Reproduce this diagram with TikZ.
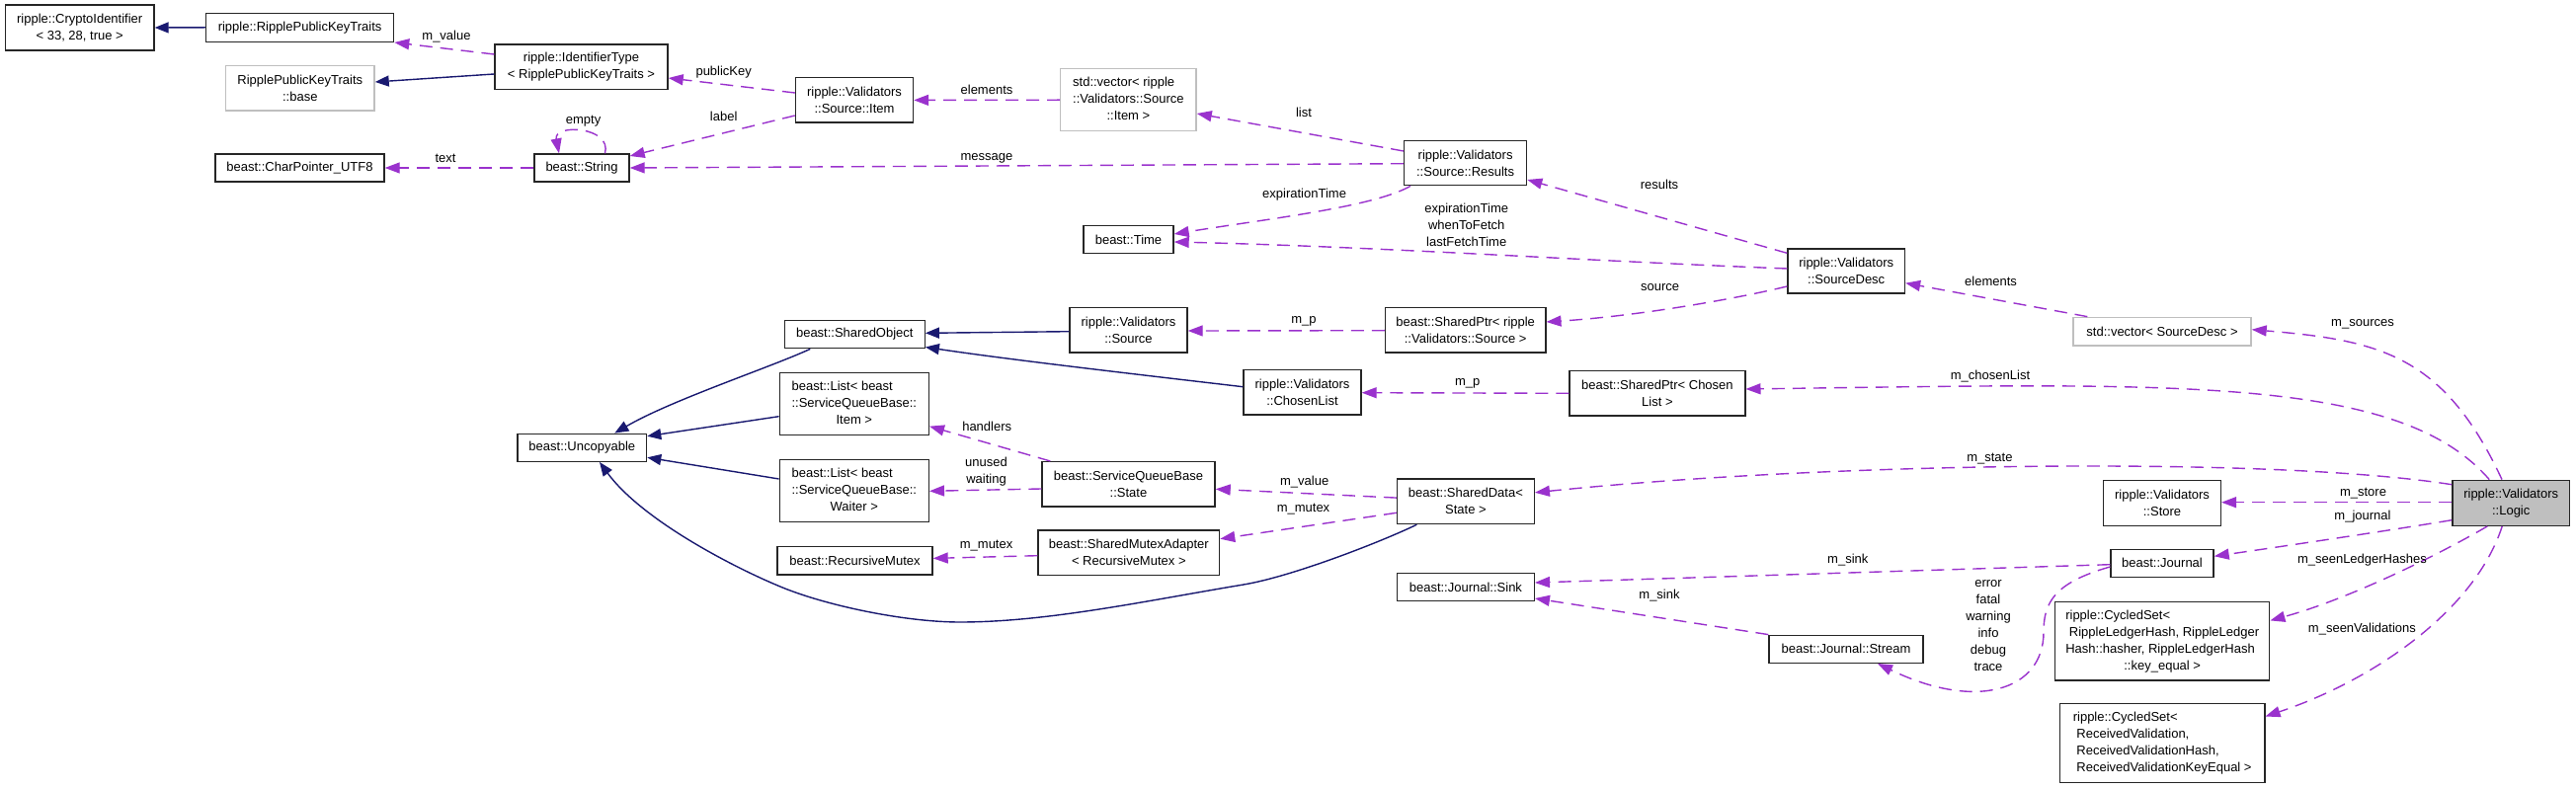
\documentclass[tikz,border=0pt]{standalone}
\usepackage{fontspec}
\setmainfont{Liberation Sans}
\usetikzlibrary{arrows.meta,calc}
\definecolor{usecol}{HTML}{9A32CD}
\definecolor{inhcol}{HTML}{191970}
\definecolor{greyfill}{HTML}{BFBFBF}
\newcommand\dxfont{\fontsize{13}{17}\selectfont}
\newcommand\dxtab[1]{\begin{tabular}{@{}l@{}}#1\end{tabular}}
\newcommand\dxc[1]{\multicolumn{1}{@{}c@{}}{#1}}
\tikzset{
  box/.style={draw=black!85, line width=1.4pt, fill=white, inner sep=1pt, align=center, font=\dxfont},
  greybox/.style={box, draw=greyfill},
  rootbox/.style={box, fill=greyfill},
  uses/.style={draw=usecol, line width=1.4pt, dash pattern=on 13pt off 8pt, -{Triangle[length=15pt,width=11pt]}},
  inh/.style={draw=inhcol, line width=1.4pt, -{Triangle[length=14pt,width=11pt]}},
  lbl/.style={font=\dxfont, inner sep=0pt, align=center}
}
\begin{document}
\begin{tikzpicture}[x=1pt,y=-1pt]
\fill[white] (0,0) rectangle (2608,799);
\useasboundingbox (0,0) rectangle (2608,799);
% nodes
\node[box, minimum width=150.6pt, minimum height=46pt] (crypto) at (80.7,28) {ripple::CryptoIdentifier\\< 33, 28, true >};
\node[box, minimum width=190pt, minimum height=29pt] (rpkt) at (303.6,27.8) {ripple::RipplePublicKeyTraits};
\node[greybox, minimum width=150.4pt, minimum height=45.7pt] (rpktbase) at (303.8,89.2) {RipplePublicKeyTraits\\::base};
\node[box, minimum width=175pt, minimum height=45.3pt] (idtype) at (588.5,67.7) {ripple::IdentifierType\\< RipplePublicKeyTraits >};
\node[box, minimum width=171pt, minimum height=28pt] (charptr) at (303.5,170) {beast::CharPointer\_UTF8};
\node[box, minimum width=96pt, minimum height=28pt] (string) at (589,170) {beast::String};
\node[box, minimum width=119pt, minimum height=45.3pt] (item) at (865,101.4) {ripple::Validators\\::Source::Item};
\node[greybox, minimum width=137.3pt, minimum height=63pt] (vecitem) at (1142.4,101.2) {\dxtab{std::vector< ripple\\::Validators::Source\\\dxc{::Item >}}};
\node[box, minimum width=124pt, minimum height=45pt] (results) at (1483.6,165.2) {ripple::Validators\\::Source::Results};
\node[box, minimum width=91pt, minimum height=28pt] (time) at (1142.5,242.7) {beast::Time};
\node[box, minimum width=118.5pt, minimum height=45pt] (sourcedesc) at (1869.2,274.5) {ripple::Validators\\::SourceDesc};
\node[greybox, minimum width=180pt, minimum height=28.7pt] (vecsd) at (2189,335.7) {std::vector< SourceDesc >};
\node[box, minimum width=141.8pt, minimum height=28.4pt] (sharedobj) at (865.3,338.5) {beast::SharedObject};
\node[box, minimum width=119pt, minimum height=45.3pt] (source) at (1142.5,334.3) {ripple::Validators\\::Source};
\node[box, minimum width=162.2pt, minimum height=45.3pt] (spsource) at (1483.7,334.3) {beast::SharedPtr< ripple\\::Validators::Source >};
\node[box, minimum width=119pt, minimum height=45.7pt] (chosen) at (1318.5,397.2) {ripple::Validators\\::ChosenList};
\node[box, minimum width=177.8pt, minimum height=45.3pt] (spchosen) at (1677.9,398.3) {beast::SharedPtr< Chosen\\List >};
\node[box, minimum width=130.6pt, minimum height=28pt] (uncopy) at (589.3,453.3) {beast::Uncopyable};
\node[box, minimum width=151pt, minimum height=63pt] (listitem) at (864.8,409.2) {\dxtab{beast::List< beast\\::ServiceQueueBase::\\\dxc{Item >}}};
\node[box, minimum width=151pt, minimum height=62.8pt] (listwaiter) at (864.8,497.1) {\dxtab{beast::List< beast\\::ServiceQueueBase::\\\dxc{Waiter >}}};
\node[box, minimum width=175pt, minimum height=45.3pt] (state) at (1142.5,490.3) {beast::ServiceQueueBase\\::State};
\node[box, minimum width=183.6pt, minimum height=45.7pt] (sma) at (1142.8,559.8) {beast::SharedMutexAdapter\\< RecursiveMutex >};
\node[box, minimum width=157pt, minimum height=28.3pt] (recmutex) at (865.5,567.9) {beast::RecursiveMutex};
\node[box, minimum width=138.7pt, minimum height=45.5pt] (shareddata) at (1483.9,507.8) {beast::SharedData<\\State >};
\node[box, minimum width=138.7pt, minimum height=28.2pt] (sink) at (1483.9,594.6) {beast::Journal::Sink};
\node[box, minimum width=156pt, minimum height=28pt] (stream) at (1869,657.3) {beast::Journal::Stream};
\node[box, minimum width=118.7pt, minimum height=46pt] (store) at (2189,509.3) {ripple::Validators\\::Store};
\node[box, minimum width=104pt, minimum height=28pt] (journal) at (2189,570.3) {beast::Journal};
\node[box, minimum width=217pt, minimum height=79.7pt] (cs1) at (2189.2,649.2) {\dxtab{ripple::CycledSet<\\\ RippleLedgerHash, RippleLedger\\Hash::hasher, RippleLedgerHash\\\dxc{::key\_equal >}}};
\node[box, minimum width=207.2pt, minimum height=80pt] (cs2) at (2189.2,752.7) {\dxtab{ripple::CycledSet<\\\ ReceivedValidation,\\\ ReceivedValidationHash,\\\ ReceivedValidationKeyEqual >}};
\node[rootbox, minimum width=118.7pt, minimum height=46pt] (logic) at (2542.2,509.3) {ripple::Validators\\::Logic};
% helper coordinates
\coordinate (sdb) at ($(shareddata.south)+(-49.5,0)$);
\coordinate (unb) at ($(uncopy.south)+(17.7,0)$);
% inheritance edges
\draw[inh] (rpkt.west) -- (crypto.east);
\draw[inh] ($(idtype.west)+(0,7.3)$) -- ($(rpktbase.east)+(0,-6.2)$);
\draw[inh] ($(source.west)+(0,1.4)$) -- ($(sharedobj.east)+(0,-1.2)$);
\draw[inh] ($(chosen.west)+(0,-5.5)$) .. controls (1150,379) and (1020,364) .. ($(sharedobj.east)+(0,13)$);
\draw[inh] ($(sharedobj.south)+(-45,0)$) .. controls (780,372) and (680,405) .. ($(uncopy.north)+(33,0)$);
\draw[inh] ($(listitem.west)+(0,12.5)$) -- ($(uncopy.east)+(0,-11.6)$);
\draw[inh] ($(listwaiter.west)+(0,-12.1)$) -- ($(uncopy.east)+(0,10)$);
\draw[inh] (sdb) .. controls (1398.7,548.5) and (1308.3,583.8) .. (1259,592)
  .. controls (1160,608.5) and (1060,630) .. (972,630)
  .. controls (920,630) and (846.9,615.5) .. (800,598)
  .. controls (762.5,584) and (654,532) .. (unb);
% usage edges
\draw[uses] ($(idtype.west)+(0,-12.7)$) -- (rpkt.south east);
\draw[uses] ($(item.west)+(0,-7.4)$) -- ($(idtype.east)+(0,11.3)$);
\draw[uses] ($(item.west)+(0,15.6)$) -- ($(string.east)+(0,-12)$);
\draw[uses] ($(string.north)+(23.5,0)$) .. controls (620,128) and (560,125) .. ($(string.north)+(-23,0)$);
\draw[uses] (string.west) -- (charptr.east);
\draw[uses] (vecitem.west) -- (item.east);
\draw[uses] ($(results.west)+(0,-12.2)$) -- ($(vecitem.east)+(0,13.8)$);
\draw[uses] ($(results.west)+(0,0.5)$) -- (string.east);
\draw[uses] ($(results.south)+(-55.6,0)$) .. controls (1390,210) and (1280,222) .. ($(time.east)+(0,-5.7)$);
\draw[uses] ($(sourcedesc.west)+(0,-2.5)$) .. controls (1600,264) and (1400,250) .. ($(time.east)+(0,2.3)$);
\draw[uses] ($(sourcedesc.north west)+(0,5)$) -- ($(results.east)+(0,16.8)$);
\draw[uses] ($(sourcedesc.west)+(0,15.5)$) .. controls (1760,302) and (1660,320) .. ($(spsource.east)+(0,-8.3)$);
\draw[uses] ($(spsource.west)+(0,0.4)$) -- ($(source.east)+(0,0.7)$);
\draw[uses] (spchosen.west) -- ($(chosen.east)+(0,0.5)$);
\draw[uses] ($(vecsd.north west)+(15,0)$) -- ($(sourcedesc.east)+(0,12.2)$);
\draw[uses] ($(logic.north)+(-9.2,0)$) .. controls (2474,358.6) and (2408,344.7) .. ($(vecsd.east)+(0,-2)$);
\draw[uses] ($(logic.north)+(-22,0)$) .. controls (2429,379.9) and (2200,388) .. ($(spchosen.east)+(0,-4.3)$);
\draw[uses] ($(logic.west)+(0,-18.6)$) .. controls (2300,462) and (1850,468) .. ($(shareddata.east)+(0,-9)$);
\draw[uses] ($(logic.west)+(0,-0.6)$) -- ($(store.east)+(0,-0.6)$);
\draw[uses] ($(logic.west)+(0,17.4)$) .. controls (2420,537) and (2320,552) .. ($(journal.east)+(0,-7)$);
\draw[uses] ($(logic.south)+(-24,0)$) .. controls (2470,561) and (2380,606) .. ($(cs1.east)+(0,-20.8)$);
\draw[uses] ($(logic.south)+(-9,0)$) .. controls (2505,620) and (2400,690) .. ($(cs2.east)+(0,-27.2)$);
\draw[uses] ($(journal.west)+(0,1.4)$) -- ($(sink.east)+(0,-4.6)$);
\draw[uses] (stream.north west) -- ($(sink.east)+(0,11.4)$);
\draw[uses] ($(journal.west)+(0,3.7)$) .. controls (2080,590) and (2069,610) .. (2069,640)
  .. controls (2069,700) and (2000,720) .. ($(stream.south)+(32,0)$);
\draw[uses] ($(state.north west)+(9,0)$) -- ($(listitem.east)+(0,22.5)$);
\draw[uses] ($(state.west)+(0,4.7)$) -- ($(listwaiter.east)+(0,0.2)$);
\draw[uses] ($(shareddata.west)+(0,-3.7)$) -- ($(state.east)+(0,5)$);
\draw[uses] ($(shareddata.west)+(0,11.5)$) -- ($(sma.east)+(0,-14.1)$);
\draw[uses] ($(sma.west)+(0,2.9)$) -- ($(recmutex.east)+(0,-2.5)$);
% labels
\node[lbl] (lmvalue) at (452,37) {m\_value};
\node[lbl] (lpk) at (732.7,72.7) {publicKey};
\node[lbl] (llabel) at (732.7,118.3) {label};
\node[lbl] (lempty) at (590.6,122.7) {empty};
\node[lbl] (ltext) at (451,160.7) {text};
\node[lbl] (lelem1) at (999,91.3) {elements};
\node[lbl] (llist) at (1320,114.3) {list};
\node[lbl] (lmsg) at (999,160) {message};
\node[lbl] (lexp) at (1320.6,196.7) {expirationTime};
\node[lbl] (lexp3) at (1484.7,227.7) {expirationTime\\whenToFetch\\lastFetchTime};
\node[lbl] (lresults) at (1680,186.7) {results};
\node[lbl] (lsource) at (1680.6,291) {source};
\node[lbl] (lmp1) at (1320,325) {m\_p};
\node[lbl] (lmp2) at (1485.7,388.7) {m\_p};
\node[lbl] (lelem2) at (2015.6,284.7) {elements};
\node[lbl] (lmsources) at (2392,328) {m\_sources};
\node[lbl] (lmchosen) at (2015,380.7) {m\_chosenList};
\node[lbl] (lmstate) at (2014.4,464.7) {m\_state};
\node[lbl] (lmstore) at (2392.5,499.7) {m\_store};
\node[lbl] (lmjournal) at (2392,522.7) {m\_journal};
\node[lbl] (lmslh) at (2391.4,566.7) {m\_seenLedgerHashes};
\node[lbl] (lmsv) at (2391.4,636.7) {m\_seenValidations};
\node[lbl] (lmsink1) at (1870.8,566.7) {m\_sink};
\node[lbl] (lmsink2) at (1680,602.7) {m\_sink};
\node[lbl] (lerr) at (2013,633.7) {error\\fatal\\warning\\info\\debug\\trace};
\node[lbl] (lhandlers) at (999.2,431.7) {handlers};
\node[lbl] (luw) at (998.5,477.7) {unused\\waiting};
\node[lbl] (lmvalue2) at (1320.7,487.7) {m\_value};
\node[lbl] (lmmutex1) at (1319.5,516) {m\_mutex};
\node[lbl] (lmmutex2) at (998.6,552.7) {m\_mutex};
\end{tikzpicture}
\end{document}
